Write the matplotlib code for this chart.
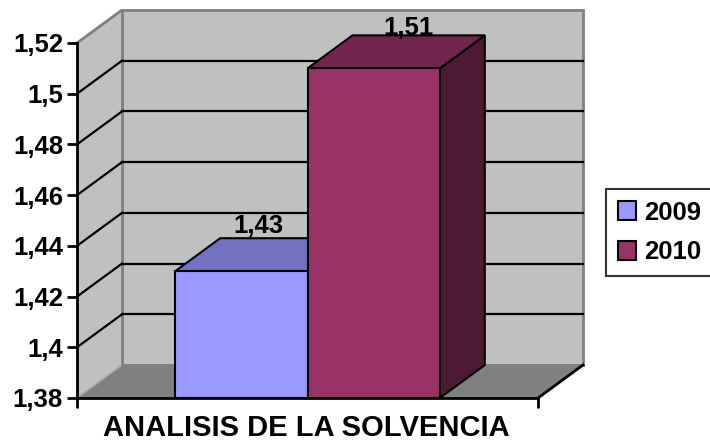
import matplotlib
matplotlib.use("Agg")
import matplotlib.pyplot as plt
from matplotlib.patches import Polygon, Patch

plt.rcParams['font.family'] = ['Liberation Sans', 'DejaVu Sans']
plt.rcParams['font.weight'] = 'bold'

# ---- data ----
category = "ANALISIS DE LA SOLVENCIA"
years = ["2009", "2010"]
values = [1.43, 1.51]
value_labels = ["1,43", "1,51"]
y_ticks = [1.38, 1.40, 1.42, 1.44, 1.46, 1.48, 1.50, 1.52]
y_tick_labels = ["1,38", "1,4", "1,42", "1,44", "1,46", "1,48", "1,5", "1,52"]

# ---- styling ----
front_colors = ["#9999FF", "#993366"]
top_colors = ["#7272BE", "#73264D"]
side_colors = ["#4D4D80", "#4D1A33"]
wall_color = "#C0C0C0"
floor_color = "#808080"
edge_gray = "#808080"
# horizontal placement of value labels along the column depth (0 = front, 1 = back)
label_depth = [0.39, 0.78]
label_gap_px = [5, 0]

W, H, DPI = 710, 442, 100
fig = plt.figure(figsize=(W / DPI, H / DPI), dpi=DPI)
ax = fig.add_axes([77 / W, 1 - 398 / H, 461 / W, 355 / H])
ymin, ymax = y_ticks[0], y_ticks[-1]
ax.set_xlim(-0.5, 0.5)
ax.set_ylim(ymin, ymax)
ax.patch.set_visible(False)

# depth offset of the 3-D box, expressed in data units
depth_px = (45, 33)
ddx = depth_px[0] / 461 * 1.0
ddy = depth_px[1] / 355 * (ymax - ymin)
px_y = (ymax - ymin) / 355

def poly(pts, fc, ec="none", lw=0, z=1):
    p = Polygon(pts, closed=True, facecolor=fc, edgecolor=ec, linewidth=lw,
                zorder=z, clip_on=False, joinstyle="miter")
    ax.add_patch(p)

x0, x1 = ax.get_xlim()

# back wall
poly([(x0 + ddx, ymin + ddy), (x1 + ddx, ymin + ddy), (x1 + ddx, ymax + ddy),
      (x0 + ddx, ymax + ddy)], wall_color, edge_gray, 2, z=0.5)
# left wall
poly([(x0, ymin), (x0 + ddx, ymin + ddy), (x0 + ddx, ymax + ddy), (x0, ymax)],
     wall_color, "none", 0, z=0.5)
ax.plot([x0, x0 + ddx], [ymax, ymax + ddy], color=edge_gray, lw=2, zorder=0.6,
        clip_on=False, solid_capstyle="butt")
ax.plot([x0 + ddx, x0 + ddx], [ymin + ddy, ymax + ddy], color=edge_gray, lw=2,
        zorder=0.6, clip_on=False)
# floor
poly([(x0, ymin), (x1, ymin), (x1 + ddx, ymin + ddy), (x0 + ddx, ymin + ddy)],
     floor_color, "none", 0, z=0.55)
ax.plot([x0, x0 + ddx], [ymin, ymin + ddy], color="#A8A8A8", lw=1.2,
        zorder=0.6, clip_on=False)
ax.plot([x0 + ddx, x1 + ddx], [ymin + ddy, ymin + ddy], color=edge_gray, lw=2,
        zorder=0.6, clip_on=False)

# gridlines on back and left walls
for v in y_ticks[1:-1]:
    ax.plot([x0 + ddx, x1 + ddx], [v + ddy, v + ddy], color="black", lw=1.6,
            zorder=0.7, clip_on=False)
    ax.plot([x0, x0 + ddx], [v, v + ddy], color="black", lw=1.6,
            zorder=0.7, clip_on=False)

# floor right edge
ax.plot([x1, x1 + ddx], [ymin, ymin + ddy], color="black", lw=2, zorder=0.8,
        clip_on=False)

# 3-D columns
bw = 0.287
centers = [-bw / 2, bw / 2]
for i, (xc, v) in enumerate(zip(centers, values)):
    xl, xr = xc - bw / 2, xc + bw / 2
    z = 1 + i
    poly([(xr, ymin), (xr + ddx, ymin + ddy), (xr + ddx, v + ddy), (xr, v)],
         side_colors[i], "black", 1.5, z=z)
    poly([(xl, v), (xr, v), (xr + ddx, v + ddy), (xl + ddx, v + ddy)],
         top_colors[i], "black", 1.5, z=z + 0.1)
    ax.bar(xc, v - ymin, bottom=ymin, width=bw, color=front_colors[i],
           edgecolor="black", linewidth=1.5, zorder=z + 0.2)
    ax.text(xc + label_depth[i] * ddx, v + ddy + label_gap_px[i] * px_y,
            value_labels[i], ha="center", va="baseline", fontsize=18.5,
            fontweight="bold", zorder=5)

# axes
for s in ["top", "right"]:
    ax.spines[s].set_visible(False)
for s in ["left", "bottom"]:
    ax.spines[s].set_linewidth(2)
    ax.spines[s].set_color("black")
    ax.spines[s].set_zorder(4)
ax.set_yticks(y_ticks)
ax.set_yticklabels(y_tick_labels)
ax.set_xticks([x0, x1])
ax.set_xticklabels(["", ""])
ax.tick_params(axis="both", direction="out", length=7, width=2, color="black")
ax.tick_params(axis="y", labelsize=18.5, pad=3)
for t in ax.get_yticklabels():
    t.set_fontweight("bold")

fig.text(306 / W, 1 - 428 / H, category, ha="center", va="center",
         fontsize=21, fontweight="bold")

handles = [Patch(facecolor=front_colors[i], edgecolor="black", linewidth=1.5,
                 label=years[i]) for i in range(2)]
leg = fig.legend(handles=handles, loc="upper left",
                 bbox_to_anchor=(606 / W, 1 - 189 / H, 125 / W, 0),
                 mode="expand", frameon=True,
                 fancybox=False, prop={"size": 18.5, "weight": "bold"},
                 handlelength=0.7, handleheight=0.75, handletextpad=0.35,
                 labelspacing=0.62, borderpad=0.45, borderaxespad=0)
leg.get_frame().set_edgecolor("black")
leg.get_frame().set_linewidth(1.5)

fig.savefig("out.png", dpi=DPI)
